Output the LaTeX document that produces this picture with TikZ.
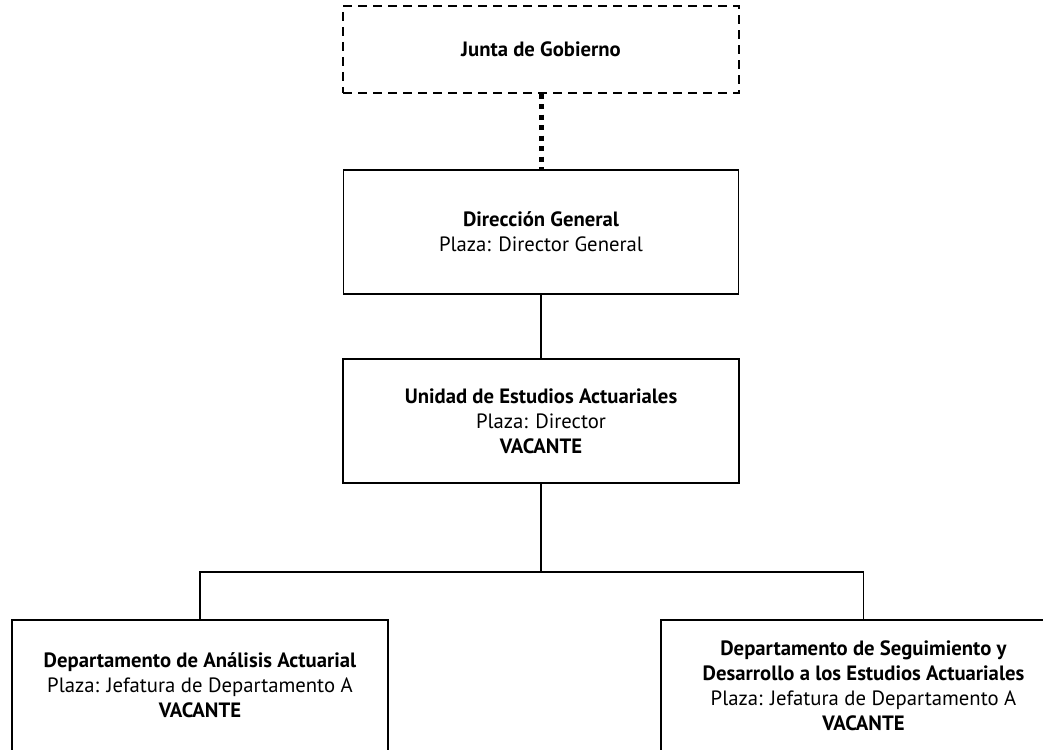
\documentclass[tikz,border=0pt]{standalone}
\usepackage{fontspec}
\setmainfont{PT Sans}
\begin{document}
\begin{tikzpicture}[x=1pt,y=-1pt,
  box/.style={draw=black, rectangle, inner sep=0pt, align=center,
    font=\fontsize{20.7}{25}\selectfont, fill=white},
  thinbox/.style={box, line width=1.3pt},
  thickbox/.style={box, line width=2.3pt},
  dashbox/.style={box, line width=1.4pt, dash pattern=on 9pt off 6pt},
  conn/.style={draw=black, line width=1.3pt},
  dotconn/.style={draw=black, line width=5pt, dash pattern=on 5pt off 5.5pt}]
\path[use as bounding box, clip] (0,0) rectangle (1043,749);
\fill[white] (0,0) rectangle (1043,749);
\node[dashbox, minimum width=396pt, minimum height=87pt] (junta) at (541,49.5) {\textbf{Junta de Gobierno}};
\node[thinbox, minimum width=395pt, minimum height=124pt] (dir) at (541,232) {\textbf{Dirección General}\\Plaza: Director General};
\node[thickbox, minimum width=396pt, minimum height=124pt] (uni) at (541,421) {\textbf{Unidad de Estudios Actuariales}\\Plaza: Director\\\textbf{VACANTE}};
\node[thickbox, minimum width=376pt, minimum height=131pt] (left) at (200,685.5) {\textbf{Departamento de Análisis Actuarial}\\Plaza: Jefatura de Departamento A\\\textbf{VACANTE}};
\node[thickbox, minimum width=405pt, minimum height=131pt] (right) at (863.5,685.5) {\textbf{Departamento de Seguimiento y}\\\textbf{Desarrollo a los Estudios Actuariales}\\Plaza: Jefatura de Departamento A\\\textbf{VACANTE}};
\coordinate (bus) at (541,572);
\draw[dotconn] (junta.south) -- (dir.north);
\draw[conn] (dir.south) -- (uni.north);
\draw[conn] (uni.south) -- (bus);
\draw[conn] (left.north) |- (bus) -| (right.north);
\end{tikzpicture}
\end{document}
